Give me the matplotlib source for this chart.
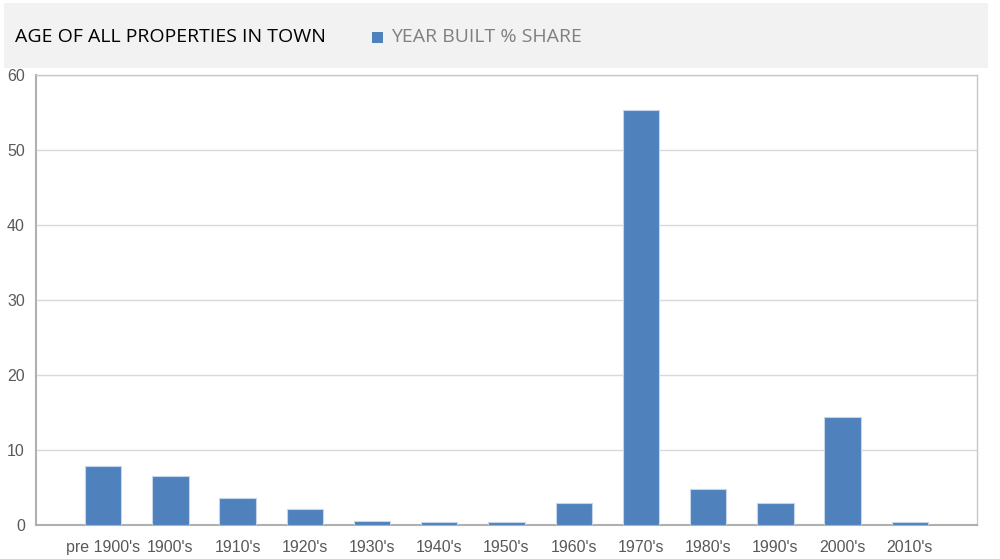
import matplotlib.pyplot as plt
from matplotlib.patches import Rectangle

categories = ["pre 1900's", "1900's", "1910's", "1920's", "1930's", "1940's", "1950's",
              "1960's", "1970's", "1980's", "1990's", "2000's", "2010's"]
share = [7.9, 6.6, 3.6, 2.1, 0.6, 0.35, 0.4, 3.0, 55.3, 4.8, 3.0, 14.4, 0.4]
yticks = [0, 10, 20, 30, 40, 50, 60]

title = "AGE OF ALL PROPERTIES IN TOWN"
legend_label = "YEAR BUILT % SHARE"
bar_color = "#4f81bd"

fig = plt.figure(figsize=(10, 5.59), dpi=100)

# grey header band
fig.patches.append(Rectangle((0.004, 1 - 68 / 559), 0.984, 65 / 559, transform=fig.transFigure,
                             facecolor="#f2f2f2", edgecolor="none", zorder=0))
fig.text(0.015, 1 - 37 / 559, title, fontsize=14, family="Open Sans", color="#000000",
         va="center", ha="left")
fig.patches.append(Rectangle((0.372, 1 - 43 / 559), 0.011, 11 / 559, transform=fig.transFigure,
                             facecolor=bar_color, edgecolor="none"))
fig.text(0.391, 1 - 37 / 559, legend_label, fontsize=14, family="Open Sans", color="#808080",
         va="center", ha="left")

ax = fig.add_axes([0.036, 1 - 525 / 559, 0.941, 450 / 559])
x = range(len(categories))
ax.bar(x, share, width=0.54, color=bar_color, edgecolor="#c6d5ea", linewidth=0.8, zorder=3)

ax.set_xlim(-1, len(categories))
ax.set_ylim(0, 60)
ax.set_yticks(yticks)
ax.set_xticks(list(x))
ax.set_xticklabels(categories)
ax.yaxis.grid(True, color="#d9d9d9", linewidth=1)
ax.set_axisbelow(True)

for side in ["top", "right"]:
    ax.spines[side].set_color("#c8c8c8")
    ax.spines[side].set_linewidth(1)
for side in ["left", "bottom"]:
    ax.spines[side].set_color("#b0b0b0")
    ax.spines[side].set_linewidth(1.5)

ax.tick_params(length=0, labelsize=11.5, labelcolor="#595959")
ax.tick_params(axis="y", pad=8)
ax.tick_params(axis="x", pad=11)
for lbl in ax.get_xticklabels() + ax.get_yticklabels():
    lbl.set_family("Liberation Sans")

fig.savefig("out.png", dpi=100)
